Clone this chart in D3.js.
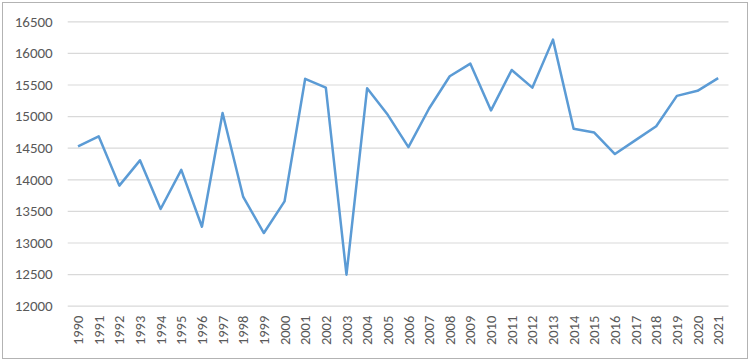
<!DOCTYPE html>
<html lang="en">
<head>
    <meta charset="UTF-8">
    <title>Line Chart</title>
    <script type="text/javascript" src="https://cdn.jsdelivr.net/npm/d3@7"></script>
    <style>
        body { margin: 0; background: #fff; }
    </style>
</head>
<body>
<script type="text/javascript">
    var years = ["1990", "1991", "1992", "1993", "1994", "1995", "1996", "1997", "1998", "1999",
        "2000", "2001", "2002", "2003", "2004", "2005", "2006", "2007", "2008", "2009",
        "2010", "2011", "2012", "2013", "2014", "2015", "2016", "2017", "2018", "2019",
        "2020", "2021"];
    var values = [14520, 14680, 13900, 14300, 13530, 14150, 13250, 15050, 13720, 13150,
        13650, 15590, 15450, 12490, 15440, 15020, 14510, 15120, 15630, 15830,
        15090, 15730, 15450, 16210, 14800, 14740, 14400, 14620, 14840, 15320,
        15400, 15600];
    var yTicks = [12000, 12500, 13000, 13500, 14000, 14500, 15000, 15500, 16000, 16500];

    var w = 750;
    var h = 361;
    var plotLeft = 67.7, plotRight = 728.5, plotTop = 21.3, plotBottom = 305.7;
    var font = "Calibri, Carlito, 'Liberation Sans', Arial, sans-serif";

    var svg = d3.select("body")
        .append("svg")
        .attr("width", w)
        .attr("height", h);

    // chart border
    svg.append("rect")
        .attr("x", 2.5)
        .attr("y", 2.5)
        .attr("width", 745)
        .attr("height", 356)
        .attr("fill", "#fff")
        .attr("stroke", "#b3b3b3")
        .attr("stroke-width", 1);

    var x = d3.scaleBand()
        .domain(years)
        .range([plotLeft, plotRight]);

    var y = d3.scaleLinear()
        .domain([12000, 16500])
        .range([plotBottom, plotTop]);

    // gridlines + y labels
    var yAxis = d3.axisLeft(y)
        .tickValues(yTicks)
        .tickFormat(d3.format("d"))
        .tickSize(-(plotRight - plotLeft))
        .tickPadding(15);
    var gy = svg.append("g")
        .attr("transform", "translate(" + plotLeft + ",0)")
        .call(yAxis);
    gy.select(".domain").remove();
    gy.selectAll(".tick line")
        .attr("stroke", "#d9d9d9")
        .attr("stroke-width", 1.2);
    gy.selectAll(".tick text")
        .attr("fill", "#595959")
        .attr("font-family", font)
        .attr("font-size", 15);

    // x labels, rotated
    var xAxis = d3.axisBottom(x).tickSize(0).tickPadding(0);
    var gx = svg.append("g")
        .attr("transform", "translate(0," + plotBottom + ")")
        .call(xAxis);
    gx.select(".domain").remove();
    gx.selectAll(".tick text")
        .attr("fill", "#595959")
        .attr("font-family", font)
        .attr("font-size", 14.5)
        .attr("transform", "rotate(-90)")
        .attr("text-anchor", "end")
        .attr("x", -10)
        .attr("y", 0)
        .attr("dy", "0.35em");

    var line = d3.line()
        .x(function (d, i) { return x(years[i]) + x.bandwidth() / 2; })
        .y(function (d) { return y(d); });

    svg.append("path")
        .datum(values)
        .attr("d", line)
        .attr("fill", "none")
        .attr("stroke", "#5b9bd5")
        .attr("stroke-width", 2.5)
        .attr("stroke-linejoin", "round");
</script>
</body>
</html>
